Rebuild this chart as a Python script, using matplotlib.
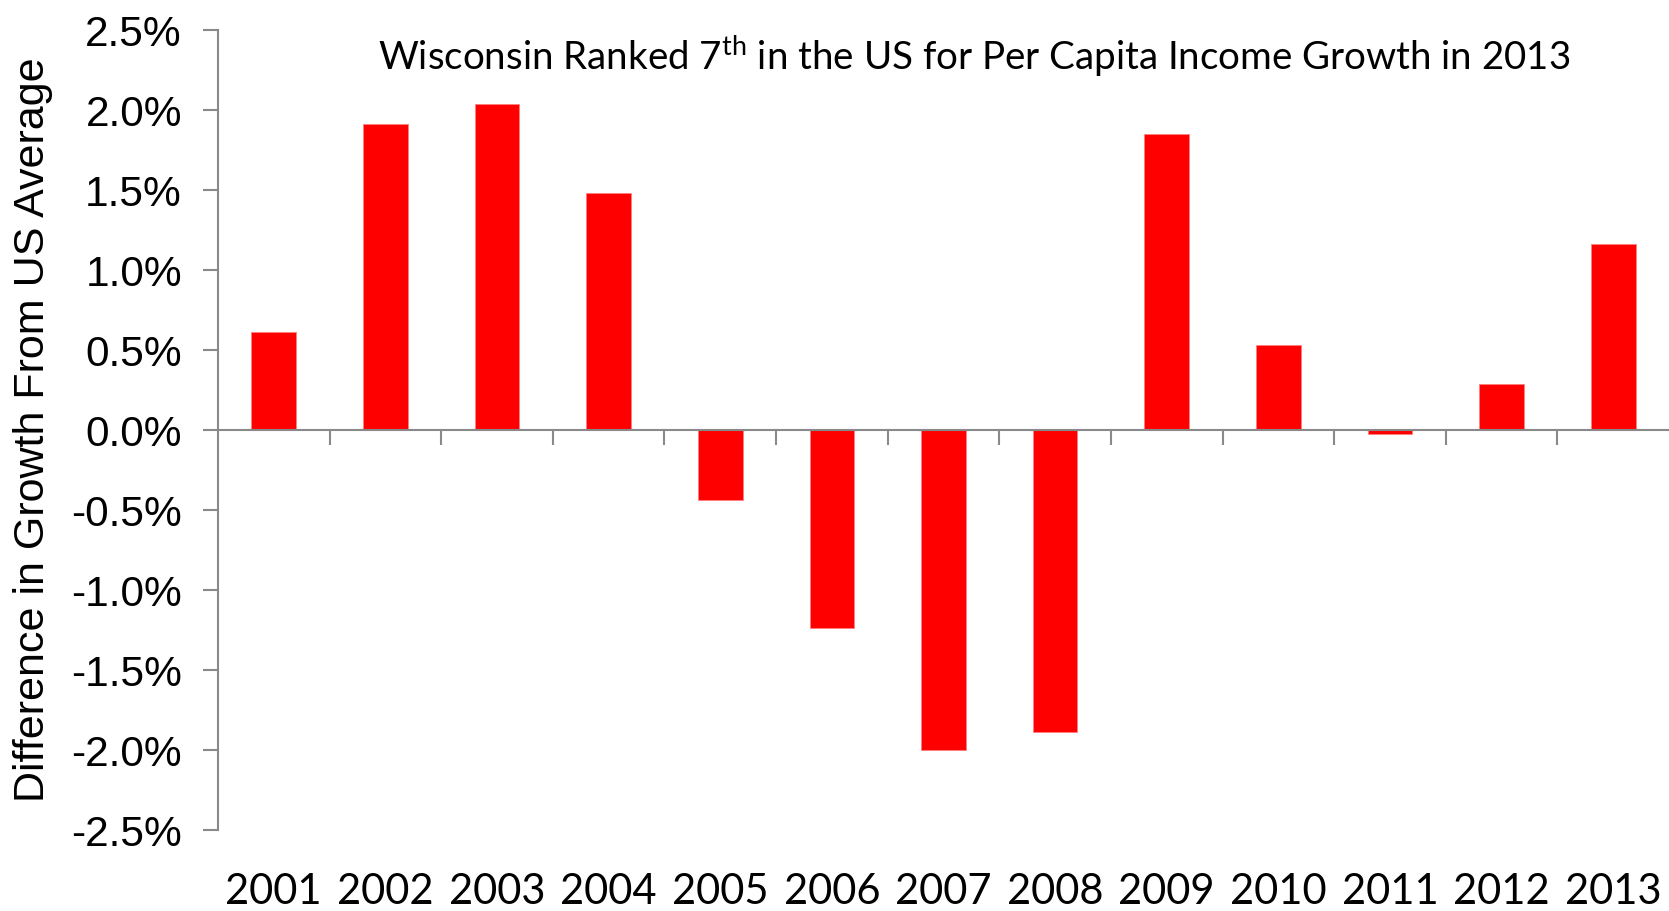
import matplotlib
matplotlib.use("Agg")
import matplotlib.pyplot as plt
import numpy as np
from matplotlib.ticker import FuncFormatter, FixedLocator
from matplotlib import font_manager

years = ["2001", "2002", "2003", "2004", "2005", "2006", "2007",
         "2008", "2009", "2010", "2011", "2012", "2013"]
diff_pct = [0.61, 1.91, 2.04, 1.48, -0.44, -1.24, -2.00,
            -1.89, 1.85, 0.53, -0.025, 0.29, 1.16]
yticks = [-2.5, -2.0, -1.5, -1.0, -0.5, 0.0, 0.5, 1.0, 1.5, 2.0, 2.5]

names = {f.name for f in font_manager.fontManager.ttflist}
narrow = "Liberation Sans Narrow" if "Liberation Sans Narrow" in names else "Lato"
plt.rcParams['mathtext.fontset'] = 'custom'
plt.rcParams['mathtext.rm'] = narrow
plt.rcParams['mathtext.it'] = narrow

W, H, DPI = 1669, 911, 100
fig = plt.figure(figsize=(W / DPI, H / DPI), dpi=DPI)
ax = fig.add_axes([218 / W, 1 - 830 / H, (1669 - 218) / W, 800 / H])

x = np.arange(len(years))
ax.bar(x, diff_pct, width=0.40, color="#ff0000", edgecolor="#ff8080", linewidth=0.6, zorder=2)

ax.set_xlim(-0.5, len(years) - 0.5)
ax.set_ylim(-2.5, 2.5)

gray = "#898989"
for s in ["top", "right"]:
    ax.spines[s].set_visible(False)
ax.spines["left"].set_color(gray)
ax.spines["left"].set_linewidth(1.5)
ax.spines["bottom"].set_position(("data", 0))
ax.spines["bottom"].set_color(gray)
ax.spines["bottom"].set_linewidth(1.5)
ax.spines["bottom"].set_zorder(3)

ax.yaxis.set_major_locator(FixedLocator(yticks))
ax.yaxis.set_major_formatter(FuncFormatter(lambda v, p: f"{v:.1f}%"))
ax.tick_params(axis="y", direction="out", length=11, width=1.5, color=gray,
               labelsize=30.5, pad=15)
for lab in ax.get_yticklabels():
    lab.set_fontfamily("Liberation Sans")

ax.set_xticks(x)
ax.set_xticklabels(years)
ax.set_xticks(np.arange(len(years) - 1) + 0.5, minor=True)
ax.tick_params(axis="x", which="major", length=0, labelsize=30, pad=319)
ax.tick_params(axis="x", which="minor", direction="out", length=11, width=1.5, color=gray)
for lab in ax.get_xticklabels():
    lab.set_fontfamily(narrow)

fig.text(33 / W, 0.5 * (1 - 830 / H + 1 - 30 / H), "Difference in Growth From US Average",
         rotation=90, ha="center", va="center", fontsize=31, fontfamily="Liberation Sans")

title = fig.text(974 / W, 1 - 56 / H,
                 r"Wisconsin Ranked 7$^{\mathrm{th}}$ in the US for Per Capita Income Growth in 2013",
                 ha="center", va="center", fontsize=27, fontfamily=narrow)
# fit title width to the reference span (~1192 px)
r = fig.canvas.get_renderer()
w = title.get_window_extent(renderer=r).width
title.set_fontsize(27 * 1192 / w)

fig.savefig("out.png", dpi=DPI)
